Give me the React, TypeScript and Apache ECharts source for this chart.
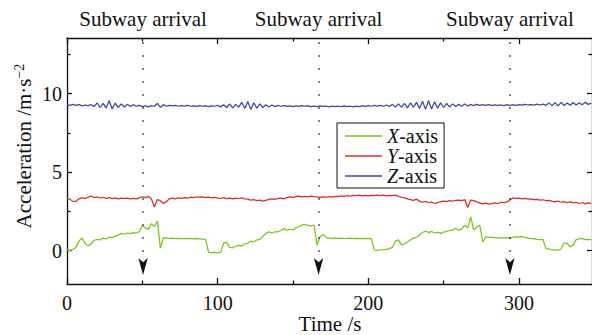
import React, { useEffect, useRef } from 'react';
import * as echarts from 'echarts';

// sampled every 2 s, from t = 0 s
const SAMPLE_STEP = 2;

const xAxisAcc = [
  0.05, 0.0, 0.08, 0.22, 0.62, 0.8, 0.45, 0.3, 0.42, 0.66,
  0.72, 0.68, 0.8, 0.74, 0.86, 0.82, 0.92, 1.0, 1.1, 1.04,
  1.12, 1.08, 1.15, 1.12, 1.2, 1.6, 1.45, 1.35, 1.72, 1.55,
  1.88, 0.16, 0.82, 0.8, 0.78, 0.79, 0.77, 0.78, 0.77, 0.76,
  0.77, 0.76, 0.75, 0.76, 0.75, 0.73, 0.7, -0.12, -0.13, -0.12,
  -0.14, -0.1, 0.5, 0.52, 0.2, 0.18, 0.28, 0.33, 0.3, 0.42,
  0.48, 0.6, 0.56, 0.68, 0.72, 0.9, 1.08, 1.2, 1.12, 1.2,
  1.2, 1.28, 1.4, 1.3, 1.36, 1.32, 1.45, 1.52, 1.62, 1.67,
  1.6, 1.58, 1.62, 0.35, 0.88, 1.02, 0.84, 0.8, 0.78, 0.79,
  0.78, 0.79, 0.77, 0.78, 0.79, 0.77, 0.78, 0.77, 0.78, 0.77,
  0.78, 0.76, 0.03, 0.02, 0.05, 0.06, 0.08, 0.12, 0.2, 0.6,
  0.68, 0.36, 0.42, 0.55, 0.68, 0.8, 0.85, 1.0, 1.15, 1.24,
  1.15, 1.22, 1.12, 1.16, 1.1, 1.18, 1.22, 1.28, 1.32, 1.42,
  1.3, 1.37, 1.62, 1.45, 2.15, 1.3, 1.5, 1.62, 0.55, 0.88,
  0.85, 0.84, 0.83, 0.8, 0.82, 0.8, 0.82, 0.8, 0.85, 0.88,
  0.86, 0.9, 0.84, 0.8, 0.78, 0.75, 0.72, 0.7, 0.7, 0.12,
  0.1, 0.05, 0.04, 0.03, 0.1, 0.5, 0.45, 0.24, 0.35, 0.7,
  0.75, 0.78, 0.7, 0.72, 0.7,
];

const yAxisAcc = [
  3.32, 3.28, 3.12, 3.15, 3.3, 3.36, 3.33, 3.4, 3.47, 3.38,
  3.42, 3.35, 3.4, 3.33, 3.38, 3.31, 3.36, 3.3, 3.35, 3.32,
  3.34, 3.29, 3.33, 3.3, 3.36, 3.43, 3.38, 3.44, 3.3, 2.78,
  3.25, 3.18, 3.0, 3.12, 3.3, 3.34, 3.3, 3.36, 3.33, 3.38,
  3.35, 3.4, 3.37, 3.43, 3.4, 3.43, 3.38, 3.41, 3.36, 3.39,
  3.35, 3.32, 3.37, 3.31, 3.34, 3.3, 3.35, 3.32, 3.36, 3.3,
  3.28, 3.22, 3.25, 3.18, 3.22, 3.15, 3.2, 3.26, 3.3, 3.27,
  3.32, 3.35, 3.3, 3.38, 3.42, 3.38, 3.45, 3.47, 3.42, 3.46,
  3.43, 3.47, 3.44, 3.42, 3.38, 3.43, 3.4, 3.44, 3.41, 3.46,
  3.44, 3.49, 3.46, 3.5, 3.47, 3.52, 3.5, 3.53, 3.49, 3.52,
  3.48, 3.52, 3.5, 3.54, 3.5, 3.53, 3.49, 3.52, 3.5, 3.53,
  3.46, 3.4, 3.36, 3.3, 3.25, 3.2, 3.28, 3.15, 3.08, 3.14,
  3.05, 3.1, 3.0, 3.06, 3.1, 3.15, 3.12, 3.18, 3.16, 3.2,
  3.22, 3.18, 3.25, 2.75, 3.22, 3.18, 3.1, 3.04, 2.98, 3.02,
  2.96, 3.0, 3.04, 3.0, 3.08, 3.05, 3.1, 3.22, 3.36, 3.32,
  3.34, 3.3, 3.32, 3.28, 3.3, 3.25, 3.27, 3.22, 3.24, 3.18,
  3.2, 3.14, 3.11, 3.15, 3.08, 3.12, 3.06, 3.1, 3.04, 3.08,
  3.0, 3.05, 2.98, 3.04, 3.0,
];

const zAxisAcc = [
  9.3, 9.26, 9.32, 9.25, 9.3, 9.22, 9.28, 9.24, 9.3, 9.18,
  9.42, 9.12, 9.38, 9.08, 9.55, 9.02, 9.4, 9.12, 9.35, 9.15,
  9.32, 9.18, 9.3, 9.2, 9.26, 9.18, 9.22, 9.16, 9.24, 9.2,
  9.38, 9.12, 9.3, 9.2, 9.26, 9.22, 9.25, 9.2, 9.24, 9.21,
  9.25, 9.2, 9.23, 9.19, 9.24, 9.2, 9.22, 9.18, 9.23, 9.2,
  9.26, 9.16, 9.3, 9.12, 9.35, 9.1, 9.32, 9.14, 9.45, 9.05,
  9.5, 9.0, 9.42, 9.08, 9.35, 9.12, 9.3, 9.15, 9.28, 9.18,
  9.25, 9.2, 9.24, 9.19, 9.23, 9.18, 9.22, 9.19, 9.24, 9.2,
  9.22, 9.17, 9.21, 9.18, 9.22, 9.19, 9.2, 9.16, 9.21, 9.18,
  9.2, 9.17, 9.22, 9.18, 9.2, 9.16, 9.21, 9.18, 9.22, 9.19,
  9.24, 9.2, 9.25, 9.21, 9.26, 9.2, 9.28, 9.18, 9.32, 9.15,
  9.35, 9.14, 9.38, 9.1, 9.42, 9.12, 9.45, 9.05, 9.52, 9.0,
  9.55, 9.02, 9.48, 9.08, 9.42, 9.12, 9.38, 9.15, 9.35, 9.18,
  9.32, 9.2, 9.34, 9.22, 9.3, 9.24, 9.32, 9.26, 9.3, 9.25,
  9.3, 9.26, 9.29, 9.25, 9.28, 9.24, 9.3, 9.26, 9.29, 9.25,
  9.3, 9.27, 9.32, 9.28, 9.31, 9.27, 9.33, 9.28, 9.34, 9.26,
  9.4, 9.24, 9.42, 9.22, 9.45, 9.25, 9.4, 9.26, 9.44, 9.28,
  9.42, 9.3, 9.45, 9.32, 9.4,
];

const seriesNames = ['X-axis', 'Y-axis', 'Z-axis'];
const seriesColors = ['#7dc41a', '#dc2f1f', '#3c45aa'];
const arrivalTimes = [50.5, 167, 294];
const arrivalLabel = 'Subway arrival';
const timeTicks = [0, 100, 200, 300];
const timeMinorTicks = [50, 150, 250];
const accTicks = [0, 5, 10];
const accMinorTicks = [2.5, 7.5, 12.5];

const X_MIN = 0;
const X_MAX = 348.5;
const Y_MIN = -2.13;
const Y_MAX = 13.55;
const FONT = 'Liberation Serif, serif';
const INK = '#111';

function toPairs(values: number[]) {
  return values.map((v, i) => [i * SAMPLE_STEP, v]);
}

function xAxisDef(position: 'top' | 'bottom', ticks: number[], len: number, labels: boolean, line: boolean) {
  return {
    type: 'value',
    position,
    min: X_MIN,
    max: X_MAX,
    axisLine: { show: line, onZero: false, lineStyle: { color: INK, width: 1.3 } },
    axisTick: { show: true, inside: true, length: len, customValues: ticks, lineStyle: { color: INK, width: 1.3 } },
    axisLabel: labels
      ? { show: true, customValues: ticks, fontSize: 20, fontFamily: FONT, color: INK, margin: 9 }
      : { show: false },
    splitLine: { show: false },
  };
}

function yAxisDef(position: 'left' | 'right', ticks: number[], len: number, labels: boolean, line: boolean) {
  return {
    type: 'value',
    position,
    min: Y_MIN,
    max: Y_MAX,
    axisLine: { show: line, onZero: false, lineStyle: { color: INK, width: 1.3 } },
    axisTick: { show: true, inside: true, length: len, customValues: ticks, lineStyle: { color: INK, width: 1.3 } },
    axisLabel: labels
      ? { show: true, customValues: ticks, fontSize: 20, fontFamily: FONT, color: INK, margin: 5 }
      : { show: false },
    splitLine: { show: false },
  };
}

export default function App() {
  const ref = useRef<HTMLDivElement>(null);

  useEffect(() => {
    if (!ref.current) return;
    const chart = echarts.init(ref.current, undefined, { renderer: 'svg' });
    const dataSets = [xAxisAcc, yAxisAcc, zAxisAcc];

    const lineSeries = dataSets.map((vals, i) => ({
      name: seriesNames[i],
      type: 'line',
      data: toPairs(vals),
      showSymbol: false,
      symbol: 'none',
      color: seriesColors[i],
      lineStyle: { width: 1.25, color: seriesColors[i] },
      xAxisIndex: 0,
      yAxisIndex: 0,
      z: 3 - i,
    }));

    const markerSeries = {
      name: 'arrivals',
      type: 'line',
      data: [],
      xAxisIndex: 0,
      yAxisIndex: 0,
      silent: true,
      markLine: {
        silent: true,
        symbol: 'none',
        animation: false,
        lineStyle: { type: [1.5, 11.5], color: '#222', width: 1.5 },
        label: {
          show: true,
          position: 'end',
          formatter: arrivalLabel,
          distance: 9,
          fontSize: 21,
          fontFamily: FONT,
          color: INK,
        },
        data: arrivalTimes.map((t) => [
          { coord: [t, -0.9] },
          { coord: [t, Y_MAX] },
        ]),
      },
      markPoint: {
        silent: true,
        animation: false,
        label: { show: false },
        itemStyle: { color: '#111' },
        data: arrivalTimes.map((t) => ({
          coord: [t, -1.55],
          symbol: 'arrow',
          symbolRotate: 180,
          symbolSize: [7, 17],
        })),
      },
    };

    chart.setOption({
      animation: false,
      backgroundColor: '#fff',
      textStyle: { fontFamily: FONT },
      grid: { left: 67, top: 38, width: 529, height: 246, containLabel: false },
      xAxis: [
        xAxisDef('bottom', timeTicks, 6, true, true),
        xAxisDef('bottom', timeMinorTicks, 3.5, false, false),
        xAxisDef('top', timeTicks, 6, false, true),
        xAxisDef('top', timeMinorTicks, 3.5, false, false),
      ],
      yAxis: [
        yAxisDef('left', accTicks, 5, true, true),
        yAxisDef('left', accMinorTicks, 3.5, false, false),
        yAxisDef('right', accTicks, 5, false, true),
        yAxisDef('right', accMinorTicks, 3.5, false, false),
      ],
      legend: {
        data: seriesNames,
        orient: 'vertical',
        left: 337,
        top: 123,
        padding: [3, 6, 2, 8],
        itemGap: 0,
        itemWidth: 37,
        itemHeight: 1.5,
        icon: 'rect',
        backgroundColor: '#fff',
        borderColor: '#111',
        borderWidth: 1,
        borderRadius: 0,
        selectedMode: false,
        formatter: (name: string) => `{i|${name[0]}}-axis`,
        textStyle: {
          fontSize: 20,
          fontFamily: FONT,
          color: INK,
          lineHeight: 20,
          rich: {
            i: { fontSize: 20, fontFamily: FONT, fontStyle: 'italic', color: INK, lineHeight: 20 },
          },
        },
      },
      graphic: [
        {
          type: 'text',
          x: 24,
          y: 146,
          rotation: Math.PI / 2,
          style: {
            text: 'Acceleration /m·s{sup|−2}',
            fontSize: 21,
            fontFamily: FONT,
            fill: INK,
            align: 'center',
            verticalAlign: 'middle',
            rich: {
              sup: { fontSize: 14, fontFamily: FONT, fill: INK, verticalAlign: 'top', padding: [0, 0, 10, 0] },
            },
          },
        },
        {
          type: 'text',
          x: 330,
          y: 324,
          style: {
            text: 'Time /s',
            fontSize: 21,
            fontFamily: FONT,
            fill: INK,
            align: 'center',
            verticalAlign: 'middle',
          },
        },
      ],
      series: [...lineSeries, markerSeries],
    });

    return () => chart.dispose();
  }, []);

  return (
    <div
      ref={ref}
      style={{ position: 'absolute', left: 0, top: 0, width: 592, height: 335 }}
    />
  );
}
